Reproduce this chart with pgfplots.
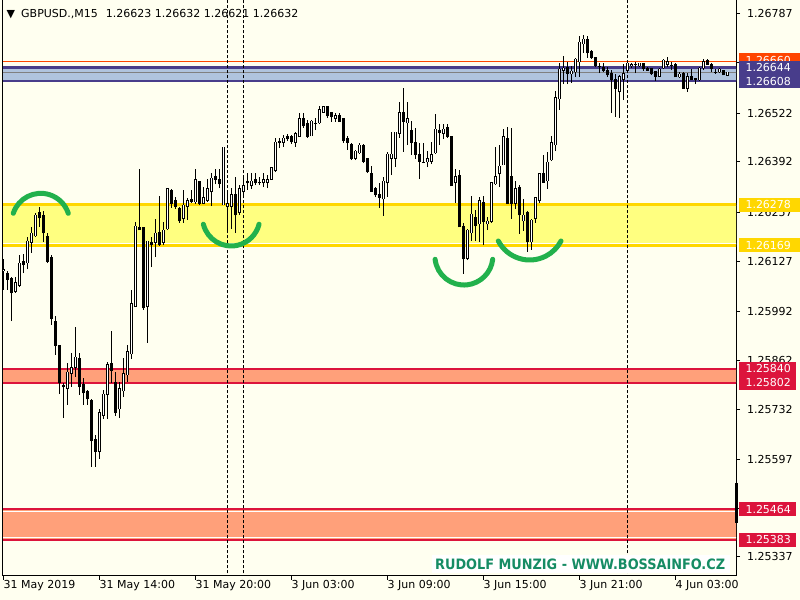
\documentclass[border=0pt]{standalone}
\usepackage{pgfplots}
\usepackage{pgfplotstable}
\pgfplotsset{compat=1.18}
\usepackage{fontspec}
\setmainfont{DejaVu Sans}
\newfontfamily\wmfont{DejaVu Sans Condensed}

\definecolor{ivory}{RGB}{255,255,240}
\definecolor{zyellow}{RGB}{255,255,128}
\definecolor{gold}{RGB}{255,215,0}
\definecolor{steelblue}{RGB}{176,196,222}
\definecolor{slateblue}{RGB}{72,61,139}
\definecolor{orangered}{RGB}{255,69,0}
\definecolor{salmon}{RGB}{255,160,122}
\definecolor{crimson}{RGB}{220,20,60}
\definecolor{arcgreen}{RGB}{34,177,76}
\definecolor{wmgreen}{RGB}{22,140,100}

% GBPUSD M15 candles: bar index, open, high, low, close
\pgfplotstableread{
i o h l c
0 1.26101 1.26133 1.26050 1.26104
1 1.26095 1.26101 1.26050 1.26079
2 1.26082 1.26085 1.25967 1.26042
3 1.26045 1.26085 1.26042 1.26071
4 1.26063 1.26144 1.26058 1.26122
5 1.26127 1.26146 1.26095 1.26117
6 1.26122 1.26192 1.26106 1.26181
7 1.26176 1.26218 1.26149 1.26202
8 1.26194 1.26256 1.26192 1.26250
9 1.26256 1.26272 1.26218 1.26242
10 1.26250 1.26261 1.26178 1.26202
11 1.26194 1.26202 1.26122 1.26127
12 1.26138 1.26144 1.25957 1.25973
13 1.25967 1.25981 1.25877 1.25901
14 1.25901 1.25901 1.25772 1.25802
15 1.25796 1.25802 1.25708 1.25791
16 1.25786 1.25855 1.25743 1.25831
17 1.25828 1.25882 1.25791 1.25842
18 1.25844 1.25951 1.25818 1.25871
19 1.25866 1.25882 1.25770 1.25791
20 1.25799 1.25815 1.25743 1.25775
21 1.25778 1.25783 1.25743 1.25759
22 1.25756 1.25759 1.25578 1.25647
23 1.25652 1.25663 1.25578 1.25618
24 1.25618 1.25732 1.25599 1.25722
25 1.25714 1.25783 1.25706 1.25772
26 1.25770 1.25858 1.25706 1.25852
27 1.25855 1.25941 1.25802 1.25836
28 1.25804 1.25831 1.25714 1.25722
29 1.25732 1.25804 1.25708 1.25786
30 1.25780 1.25868 1.25764 1.25826
31 1.25823 1.25903 1.25804 1.25885
32 1.25879 1.26050 1.25866 1.26013
33 1.26005 1.26232 1.26005 1.26221
34 1.26216 1.26373 1.26210 1.26210
35 1.26216 1.26218 1.25997 1.26002
36 1.26005 1.26181 1.25909 1.26181
37 1.26178 1.26192 1.26111 1.26170
38 1.26176 1.26240 1.26138 1.26202
39 1.26205 1.26301 1.26168 1.26170
40 1.26176 1.26232 1.26170 1.26210
41 1.26213 1.26322 1.26210 1.26320
42 1.26317 1.26320 1.26269 1.26282
43 1.26290 1.26298 1.26266 1.26272
44 1.26269 1.26272 1.26229 1.26234
45 1.26240 1.26317 1.26229 1.26277
46 1.26272 1.26296 1.26237 1.26288
47 1.26293 1.26317 1.26282 1.26285
48 1.26285 1.26373 1.26280 1.26346
49 1.26341 1.26341 1.26277 1.26282
50 1.26282 1.26325 1.26280 1.26298
51 1.26288 1.26346 1.26285 1.26320
52 1.26312 1.26362 1.26274 1.26349
53 1.26352 1.26373 1.26333 1.26346
54 1.26346 1.26373 1.26322 1.26333
55 1.26277 1.26432 1.26277 1.26432
56 1.26272 1.26317 1.26202 1.26280
57 1.26272 1.26322 1.26213 1.26306
58 1.26304 1.26352 1.26202 1.26250
59 1.26256 1.26330 1.26250 1.26320
60 1.26312 1.26352 1.26298 1.26330
61 1.26341 1.26362 1.26317 1.26336
62 1.26328 1.26362 1.26320 1.26341
63 1.26346 1.26362 1.26330 1.26336
64 1.26338 1.26352 1.26330 1.26336
65 1.26336 1.26362 1.26325 1.26346
66 1.26338 1.26357 1.26322 1.26346
67 1.26346 1.26378 1.26344 1.26378
68 1.26368 1.26456 1.26365 1.26445
69 1.26448 1.26456 1.26429 1.26443
70 1.26443 1.26464 1.26432 1.26456
71 1.26459 1.26467 1.26448 1.26453
72 1.26461 1.26464 1.26440 1.26445
73 1.26443 1.26472 1.26432 1.26467
74 1.26459 1.26523 1.26459 1.26507
75 1.26509 1.26523 1.26483 1.26488
76 1.26496 1.26504 1.26456 1.26459
77 1.26461 1.26504 1.26461 1.26501
78 1.26496 1.26509 1.26477 1.26496
79 1.26496 1.26541 1.26493 1.26531
80 1.26525 1.26541 1.26523 1.26539
81 1.26539 1.26541 1.26509 1.26515
82 1.26523 1.26525 1.26499 1.26512
83 1.26507 1.26523 1.26499 1.26515
84 1.26517 1.26523 1.26499 1.26499
85 1.26507 1.26507 1.26443 1.26448
86 1.26456 1.26461 1.26424 1.26443
87 1.26440 1.26443 1.26397 1.26400
88 1.26402 1.26424 1.26397 1.26421
89 1.26416 1.26443 1.26413 1.26437
90 1.26437 1.26440 1.26389 1.26394
91 1.26402 1.26402 1.26362 1.26365
92 1.26362 1.26381 1.26312 1.26314
93 1.26322 1.26325 1.26298 1.26304
94 1.26306 1.26336 1.26269 1.26298
95 1.26293 1.26352 1.26248 1.26341
96 1.26336 1.26419 1.26298 1.26413
97 1.26402 1.26472 1.26357 1.26413
98 1.26402 1.26472 1.26378 1.26472
99 1.26467 1.26552 1.26456 1.26523
100 1.26525 1.26589 1.26419 1.26499
101 1.26496 1.26552 1.26437 1.26507
102 1.26475 1.26501 1.26411 1.26443
103 1.26445 1.26483 1.26400 1.26411
104 1.26413 1.26443 1.26346 1.26394
105 1.26392 1.26443 1.26389 1.26392
106 1.26392 1.26421 1.26378 1.26402
107 1.26394 1.26445 1.26386 1.26411
108 1.26416 1.26520 1.26413 1.26480
109 1.26477 1.26493 1.26437 1.26469
110 1.26467 1.26493 1.26453 1.26480
111 1.26485 1.26493 1.26456 1.26459
112 1.26461 1.26461 1.26328 1.26328
113 1.26336 1.26373 1.26282 1.26352
114 1.26357 1.26370 1.26218 1.26218
115 1.26221 1.26229 1.26093 1.26133
116 1.26135 1.26213 1.26130 1.26210
117 1.26202 1.26301 1.26181 1.26253
118 1.26245 1.26264 1.26181 1.26221
119 1.26226 1.26298 1.26178 1.26288
120 1.26285 1.26301 1.26170 1.26232
121 1.26226 1.26245 1.26210 1.26234
122 1.26232 1.26338 1.26229 1.26338
123 1.26333 1.26432 1.26330 1.26354
124 1.26360 1.26437 1.26325 1.26381
125 1.26384 1.26480 1.26384 1.26459
126 1.26456 1.26485 1.26282 1.26282
127 1.26354 1.26483 1.26240 1.26282
128 1.26282 1.26341 1.26266 1.26322
129 1.26325 1.26330 1.26200 1.26250
130 1.26234 1.26293 1.26208 1.26250
131 1.26258 1.26261 1.26152 1.26178
132 1.26178 1.26240 1.26157 1.26237
133 1.26240 1.26296 1.26229 1.26296
134 1.26288 1.26362 1.26282 1.26360
135 1.26362 1.26411 1.26338 1.26338
136 1.26341 1.26419 1.26320 1.26392
137 1.26397 1.26461 1.26394 1.26443
138 1.26437 1.26581 1.26421 1.26563
139 1.26560 1.26656 1.26531 1.26640
140 1.26637 1.26675 1.26600 1.26643
141 1.26645 1.26659 1.26600 1.26629
142 1.26627 1.26648 1.26603 1.26635
143 1.26632 1.26670 1.26619 1.26667
144 1.26659 1.26728 1.26619 1.26712
145 1.26707 1.26731 1.26683 1.26720
146 1.26718 1.26728 1.26670 1.26683
147 1.26686 1.26691 1.26667 1.26670
148 1.26672 1.26672 1.26645 1.26648
149 1.26648 1.26656 1.26629 1.26648
150 1.26645 1.26656 1.26632 1.26635
151 1.26637 1.26645 1.26619 1.26624
152 1.26629 1.26637 1.26523 1.26613
153 1.26613 1.26627 1.26512 1.26589
154 1.26579 1.26624 1.26509 1.26621
155 1.26613 1.26653 1.26557 1.26629
156 1.26637 1.26659 1.26629 1.26656
157 1.26648 1.26656 1.26643 1.26653
158 1.26653 1.26659 1.26629 1.26653
159 1.26648 1.26656 1.26645 1.26656
160 1.26656 1.26656 1.26635 1.26640
161 1.26643 1.26645 1.26635 1.26637
162 1.26643 1.26643 1.26624 1.26627
163 1.26635 1.26635 1.26608 1.26621
164 1.26621 1.26643 1.26619 1.26640
165 1.26643 1.26667 1.26640 1.26664
166 1.26653 1.26672 1.26645 1.26661
167 1.26651 1.26659 1.26637 1.26651
168 1.26653 1.26656 1.26619 1.26619
169 1.26619 1.26632 1.26616 1.26627
170 1.26629 1.26632 1.26589 1.26589
171 1.26589 1.26629 1.26579 1.26621
172 1.26621 1.26640 1.26611 1.26611
173 1.26616 1.26616 1.26600 1.26611
174 1.26611 1.26645 1.26608 1.26643
175 1.26643 1.26667 1.26637 1.26661
176 1.26664 1.26667 1.26651 1.26653
177 1.26653 1.26656 1.26632 1.26640
178 1.26632 1.26640 1.26627 1.26632
179 1.26632 1.26643 1.26629 1.26640
180 1.26637 1.26637 1.26624 1.26624
181 1.26623 1.26632 1.26621 1.26632
}\candles

\begin{document}
\begin{tikzpicture}
\path[use as bounding box] (0,0) rectangle (800bp,600bp);
\fill[ivory] (0,0) rectangle (800bp,600bp);

% y axis in pips above 1.25000
\begin{axis}[
    at={(3bp,24bp)}, anchor=south west,
    scale only axis, width=733bp, height=576bp,
    xmin=-0.125, xmax=183.125, ymin=28.62, ymax=182.44,
    axis x line*=bottom, axis y line*=right,
    axis line style={black, line width=1bp},
    tick align=outside, major tick length=4bp,
    tick style={black, line width=1bp},
    tick label style={font=\fontsize{11bp}{13bp}\selectfont, inner sep=0pt, text=black},
    xtick={0,24,...,168},
    xticklabels={31 May 2019,31 May 14:00,31 May 20:00,3 Jun 03:00,3 Jun 09:00,3 Jun 15:00,3 Jun 21:00,4 Jun 03:00},
    xticklabel style={anchor=north west},
    ytick={178.7,165.7,152.2,139.2,125.7,112.7,99.2,86.2,73.2,59.7,46.7,33.7},
    yticklabels={1.26787,1.26657,1.26522,1.26392,1.26257,1.26127,1.25992,1.25862,1.25732,1.25597,1.25467,1.25337},
    yticklabel style={anchor=west, xshift=7bp},
]
% support / resistance zones
\addplot[draw=none, fill=zyellow] coordinates {(-2,116.9) (186,116.9) (186,127.8) (-2,127.8)} -- cycle;
\addplot[white, line width=1.2bp] coordinates {(-2,117.45) (186,117.45)};
\addplot[gold, line width=3bp] coordinates {(-2,127.8) (186,127.8)};
\addplot[gold, line width=3bp] coordinates {(-2,116.9) (186,116.9)};

\addplot[draw=none, fill=steelblue] coordinates {(-2,160.8) (186,160.8) (186,164.4) (-2,164.4)} -- cycle;
\addplot[slateblue, line width=2.5bp] coordinates {(-2,164.4) (186,164.4)};
\addplot[slateblue, line width=2.5bp] coordinates {(-2,160.8) (186,160.8)};
\addplot[gray, line width=1bp] coordinates {(-2,163.2) (186,163.2)};
\addplot[orangered, line width=1bp] coordinates {(-2,166.0) (186,166.0)};

\addplot[draw=none, fill=salmon] coordinates {(-2,80.2) (186,80.2) (186,84.0) (-2,84.0)} -- cycle;
\addplot[crimson, line width=2bp] coordinates {(-2,84.0) (186,84.0)};
\addplot[crimson, line width=2bp] coordinates {(-2,80.2) (186,80.2)};

\addplot[draw=none, fill=salmon] coordinates {(-2,38.3) (186,38.3) (186,46.4) (-2,46.4)} -- cycle;
\addplot[white, line width=1.5bp] coordinates {(-2,45.85) (186,45.85)};
\addplot[white, line width=1.5bp] coordinates {(-2,38.9) (186,38.9)};
\addplot[crimson, line width=2bp] coordinates {(-2,46.4) (186,46.4)};
\addplot[crimson, line width=2bp] coordinates {(-2,38.3) (186,38.3)};

% period separators
\addplot[black, line width=1bp, dash pattern=on 3bp off 2bp] coordinates {(56,20) (56,190)};
\addplot[black, line width=1bp, dash pattern=on 3bp off 2bp] coordinates {(60,20) (60,190)};
\addplot[black, line width=1bp, dash pattern=on 3bp off 2bp] coordinates {(156,20) (156,190)};

% wicks
\addplot[draw=none, mark=none, error bars/.cd, y dir=plus, y explicit, error mark=none,
    error bar style={draw=black, solid, line width=1bp}]
  table[x=i, y expr={(\thisrow{l}-1.25)*10000}, y error plus expr={(\thisrow{h}-\thisrow{l})*10000}] {\candles};
% bodies: black block, then white inside for up candles
\addplot[draw=none, mark=none, error bars/.cd, y dir=plus, y explicit, error mark=none,
    error bar style={draw=black, solid, line width=3.4bp}]
  table[x=i, y expr={(min(\thisrow{o},\thisrow{c})-1.25)*10000-0.107},
    y error plus expr={abs(\thisrow{c}-\thisrow{o})*10000+0.214}] {\candles};
\addplot[draw=none, mark=none, error bars/.cd, y dir=plus, y explicit, error mark=none,
    error bar style={draw=white, solid, line width=1.8bp}]
  table[x=i, y expr={(\thisrow{o}-1.25)*10000+0.107},
    y error plus expr={max((\thisrow{c}-\thisrow{o})*10000-0.214,0)}] {\candles};

\coordinate (lOr) at (axis cs:183.125,166.0);
\coordinate (lB1) at (axis cs:183.125,164.4);
\coordinate (lB2) at (axis cs:183.125,160.8);
\coordinate (lY1) at (axis cs:183.125,127.8);
\coordinate (lY2) at (axis cs:183.125,116.9);
\coordinate (lR1) at (axis cs:183.125,84.0);
\coordinate (lR2) at (axis cs:183.125,80.2);
\coordinate (lR3) at (axis cs:183.125,46.4);
\coordinate (lR4) at (axis cs:183.125,38.3);
\end{axis}

% price labels on the scale
\tikzset{plab/.style={anchor=west, inner sep=0pt, minimum height=14bp, text=white,
    font=\fontsize{11bp}{13bp}\selectfont, xshift=2.3bp}}
\node[plab, fill=orangered] at ([yshift=1.5bp]lOr) {\hspace*{7bp}1.26660\hspace*{20bp}};
\node[plab, fill=slateblue] at (lB1) {\hspace*{7bp}1.26644\hspace*{20bp}};
\node[plab, fill=slateblue] at (lB2) {\hspace*{7bp}1.26608\hspace*{20bp}};
\node[plab, fill=gold] at (lY1) {\hspace*{7bp}1.26278\hspace*{20bp}};
\node[plab, fill=gold] at (lY2) {\hspace*{7bp}1.26169\hspace*{20bp}};
\node[plab, fill=crimson] at (lR1) {\hspace*{7bp}1.25840\hspace*{5bp}};
\node[plab, fill=crimson] at (lR2) {\hspace*{7bp}1.25802\hspace*{5bp}};
\node[plab, fill=crimson] at (lR3) {\hspace*{7bp}1.25464\hspace*{5bp}};
\node[plab, fill=crimson] at (lR4) {\hspace*{7bp}1.25383\hspace*{5bp}};

% chart frame left, current bar marker
\draw[black, line width=1bp] (2.5bp,24bp) -- (2.5bp,600bp);
\draw[black, line width=3bp] (736bp,117bp) -- (736bp,77bp);

% title
\node[anchor=base west, inner sep=0pt, font=\fontsize{11bp}{13bp}\selectfont] at (6.5bp,582.7bp) {▼};
\node[anchor=base west, inner sep=0pt, font=\fontsize{11bp}{13bp}\selectfont] at (21bp,582.7bp)
  {GBPUSD.,M15\hspace*{8bp}1.26623 1.26632 1.26621 1.26632};

% hand drawn arcs
\begin{scope}[arcgreen, line width=5bp, line cap=round]
\draw (13.3bp,386.7bp) arc[start angle=162, end angle=18, radius=28.9bp];
\draw (203.35bp,375.76bp) arc[start angle=194, end angle=346, radius=28.7bp];
\draw (435.1bp,340.7bp) arc[start angle=186.5, end angle=353.5, radius=29bp];
\draw (498.3bp,359bp) arc[start angle=207.6, end angle=332.4, radius=35.4bp];
\end{scope}

% watermark
\fill[white] (431.7bp,27bp) rectangle (730bp,45bp);
\node[anchor=base west, inner sep=0pt, text=wmgreen, font=\wmfont\bfseries\fontsize{14.3bp}{16bp}\selectfont]
  at (435bp,30.7bp) {RUDOLF MUNZIG - WWW.BOSSAINFO.CZ};
\end{tikzpicture}
\end{document}
